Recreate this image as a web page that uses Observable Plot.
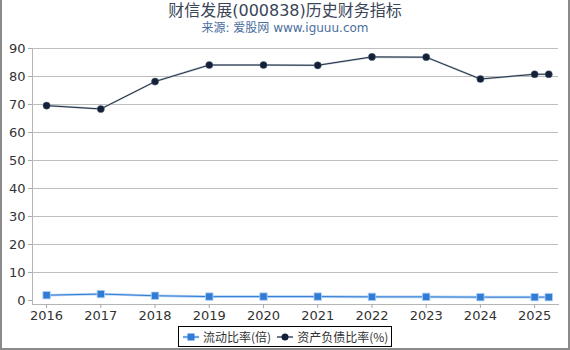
<!DOCTYPE html>
<html>
<head>
<meta charset="utf-8">
<script src="https://cdn.jsdelivr.net/npm/d3@7"></script>
<script src="https://cdn.jsdelivr.net/npm/@observablehq/plot@0.6"></script>
<style>
  html, body { margin: 0; padding: 0; background: #fff; }
  body { width: 570px; height: 350px; position: relative; overflow: hidden;
         font-family: "DejaVu Sans", "Noto Sans CJK SC", sans-serif; }
  #frame { position: absolute; left: 0; top: 0; width: 570px; height: 350px; box-sizing: border-box;
           border-left: 2px solid #8a8a8a; border-right: 2px solid #8a8a8a; border-bottom: 2px solid #8a8a8a;
           pointer-events: none; }
  #title { position: absolute; left: 0; width: 570px; top: 1px; text-align: center; font-size: 16px;
           color: #3a4557; font-family: "DejaVu Sans", "Noto Sans CJK SC", sans-serif; line-height: 20px; }
  #subtitle { position: absolute; left: 0; width: 570px; top: 20px; text-align: center; font-size: 12px;
              color: #4a6e9e; line-height: 16px; font-family: "DejaVu Sans", "Noto Sans CJK SC", sans-serif; }
  #chart { position: absolute; left: 0; top: 40px; }
  #legend { position: absolute; left: 178px; top: 326px; width: 214px; height: 21px; box-sizing: border-box;
            border: 1px solid #000; display: flex; align-items: center; font-size: 12px; color: #333;
            font-family: "Noto Sans CJK SC", "DejaVu Sans", sans-serif; padding-left: 4px; white-space: nowrap;
            background: #fff; }
  #legend .item { display: flex; align-items: center; }
  #legend svg { margin-right: 4px; }
</style>
</head>
<body>
<div id="title">财信发展(000838)历史财务指标</div>
<div id="subtitle">来源: 爱股网 www.iguuu.com</div>
<div id="chart"></div>
<div id="legend"></div>
<div id="frame"></div>
<script>
// ---- data ----
const years = [2016, 2017, 2018, 2019, 2020, 2021, 2022, 2023, 2024, 2025, 2025.26];
const currentRatio = [1.9, 2.3, 1.7, 1.4, 1.4, 1.4, 1.3, 1.3, 1.2, 1.2, 1.2];
const debtRatio = [69.6, 68.4, 78.2, 84.1, 84.1, 84.0, 87.0, 86.9, 79.1, 80.8, 80.8];
const xTicks = [2016, 2017, 2018, 2019, 2020, 2021, 2022, 2023, 2024, 2025];
const yTicks = [0, 10, 20, 30, 40, 50, 60, 70, 80, 90];
const seriesNames = ["流动比率(倍)", "资产负债比率(%)"];

const blue = "#2f7bd6";
const blueHalo = "#b3d2f3";
const dark = "#122038";
const darkHalo = "#b9c1cc";

const cur = years.map((x, i) => ({x, y: currentRatio[i]}));
const debt = years.map((x, i) => ({x, y: debtRatio[i]}));

const plot = Plot.plot({
  width: 570,
  height: 286,
  marginTop: 8,
  marginLeft: 32,
  marginRight: 12,
  marginBottom: 22,
  style: {fontFamily: "DejaVu Sans, sans-serif", fontSize: "13px", color: "#333", background: "transparent", overflow: "visible"},
  x: {type: "linear", domain: [2015.74, 2025.44]},
  y: {domain: [0, 90], insetBottom: 4},
  marks: [
    Plot.gridY(yTicks.filter(d => d > 0), {stroke: "#bdbdbd", strokeOpacity: 1}),
    Plot.frame({anchor: "left", stroke: "#b5b5b5"}),
    Plot.frame({anchor: "bottom", stroke: "#b5b5b5"}),
    Plot.axisY({ticks: yTicks, tickSize: 4, tickPadding: 3, stroke: "#aaa", fill: "#333", fontSize: 13, label: null}),
    Plot.axisX({ticks: xTicks, tickFormat: d => String(d), tickSize: 4, tickPadding: 2, stroke: "#aaa", fill: "#333", fontSize: 13, label: null}),
    Plot.line(cur, {x: "x", y: "y", stroke: blueHalo, strokeWidth: 2.6}),
    Plot.line(cur, {x: "x", y: "y", stroke: blue, strokeWidth: 1}),
    Plot.dot(cur, {x: "x", y: "y", symbol: "square", r: 4.2, fill: blue, stroke: blueHalo, strokeWidth: 0.8}),
    Plot.line(debt, {x: "x", y: "y", stroke: darkHalo, strokeWidth: 2}),
    Plot.line(debt, {x: "x", y: "y", stroke: dark, strokeWidth: 0.9}),
    Plot.dot(debt, {x: "x", y: "y", r: 3.6, fill: dark, stroke: "#5a6678", strokeWidth: 0.5})
  ]
});
document.getElementById("chart").appendChild(plot);

// legend
const legend = document.getElementById("legend");
const markers = [
  `<svg width="16" height="10"><line x1="0" y1="5" x2="16" y2="5" stroke="${blueHalo}" stroke-width="2.6"/><line x1="0" y1="5" x2="16" y2="5" stroke="${blue}" stroke-width="1"/><rect x="4.5" y="1.5" width="7" height="7" fill="${blue}"/></svg>`,
  `<svg width="16" height="10"><line x1="0" y1="5" x2="16" y2="5" stroke="${darkHalo}" stroke-width="2"/><line x1="0" y1="5" x2="16" y2="5" stroke="${dark}" stroke-width="0.9"/><circle cx="8" cy="5" r="3.5" fill="${dark}"/></svg>`
];
seriesNames.forEach((name, i) => {
  const item = document.createElement("span");
  item.className = "item";
  item.style.marginRight = i === 0 ? "6px" : "0";
  item.innerHTML = markers[i] + `<span>${name}</span>`;
  legend.appendChild(item);
});
</script>
</body>
</html>
